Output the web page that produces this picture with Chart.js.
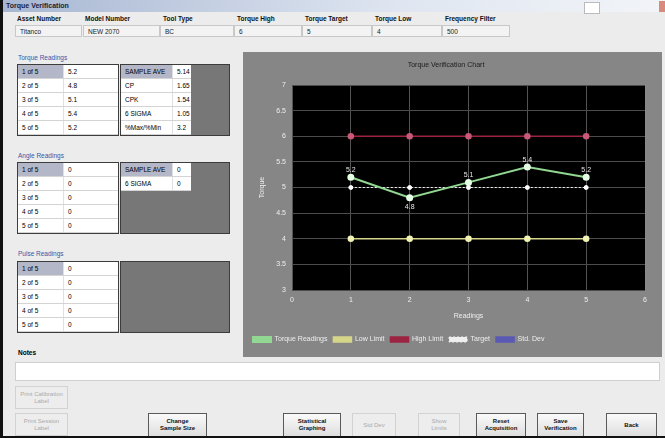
<!DOCTYPE html>
<html>
<head>
<meta charset="utf-8">
<script src="https://cdn.jsdelivr.net/npm/chart.js@4.4.0/dist/chart.umd.min.js"></script>
<style>
body { margin:0; width:665px; height:438px; background:#ececec; font-family:"Liberation Sans", Arial, sans-serif; position:relative; overflow:hidden; }
.a { position:absolute; }
.titlebar { left:0; top:0; width:665px; height:12px; background:linear-gradient(to right,#a7b6d2,#dfe6f1 60%,#f2f4f8); }
.titlebar span { position:absolute; left:6px; top:2px; font-size:7px; font-weight:bold; color:#223; }
.hl { top:15px; font-size:6.5px; font-weight:bold; color:#111; }
.hv { top:25px; height:12px; background:#f3f3f3; border:1px solid #c8c8c8; font-size:6.5px; line-height:12px; padding-left:4px; box-sizing:border-box; color:#222; }
.grp { left:18px; font-size:6.5px; color:#3a56a6; }
.tbl { border:1px solid #3c3c3c; background:#fff; box-sizing:border-box; }
.tbl2 { border:1px solid #3c3c3c; background:#777; box-sizing:border-box; }
.row { position:absolute; left:0; height:14px; border-bottom:1px solid #d4d4d4; box-sizing:border-box; font-size:6.5px; line-height:13px; background:#fff; }
.row div { position:absolute; top:0; height:13px; padding-left:4px; box-sizing:border-box; }
.sel { background:#b3b7c7; }
.btn { height:24px; border:1px solid #5a5a5a; background:linear-gradient(#fafafa,#dedede); font-size:6px; font-weight:bold; text-align:center; box-sizing:border-box; display:flex; align-items:center; justify-content:center; line-height:7px; color:#111; }
.dis { border:1px solid #d2d2d2; background:#ededed; color:#aaa; font-weight:normal; }
#panel { left:243px; top:52px; width:419px; height:305px; background:#868686; }
#panel canvas { position:absolute; left:0; top:0; }
</style>
</head>
<body>
<div class="a" style="left:0;top:0;width:3px;height:438px;background:#111;z-index:5"></div>
<div class="a" style="left:0;top:436px;width:665px;height:2px;background:#111;z-index:5"></div>
<div class="a titlebar"><span>Torque Verification</span></div>
<div class="a" style="left:584px;top:2px;width:14px;height:10px;background:#fff;border:1px solid #bbb"></div>
<div class="a" style="left:659px;top:1px;width:6px;height:11px;background:#d98a7a"></div>

<div class="a hl" style="left:17px">Asset Number</div>
<div class="a hl" style="left:85px">Model Number</div>
<div class="a hl" style="left:163px">Tool Type</div>
<div class="a hl" style="left:237px">Torque High</div>
<div class="a hl" style="left:305px">Torque Target</div>
<div class="a hl" style="left:375px">Torque Low</div>
<div class="a hl" style="left:445px">Frequency Filter</div>
<div class="a hv" style="left:15px;width:67px">Titanco</div>
<div class="a hv" style="left:83px;width:77px">NEW 2070</div>
<div class="a hv" style="left:160px;width:74px">BC</div>
<div class="a hv" style="left:234px;width:68px">6</div>
<div class="a hv" style="left:302px;width:70px">5</div>
<div class="a hv" style="left:372px;width:70px">4</div>
<div class="a hv" style="left:442px;width:68px">500</div>

<div class="a grp" style="top:54px">Torque Readings</div>
<div class="a grp" style="top:152px">Angle Readings</div>
<div class="a grp" style="top:250px">Pulse Readings</div>
<div id="forms"></div>

<div class="a" id="panel"><canvas id="torqueChart" width="419" height="305"></canvas></div>

<div class="a" style="left:18px;top:349px;font-size:6.5px;font-weight:bold">Notes</div>
<div class="a" style="left:15px;top:362px;width:645px;height:19px;background:#fff;border:1px solid #cfcfcf;box-sizing:border-box"></div>

<div class="a btn dis" style="left:15px;top:386px;width:53px;height:23px">Print Calibration<br>Label</div>
<div class="a btn dis" style="left:15px;top:413px;width:53px;height:23px">Print Session<br>Label</div>
<div class="a btn" style="left:148px;top:413px;width:59px">Change<br>Sample Size</div>
<div class="a btn" style="left:283px;top:413px;width:58px">Statistical<br>Graphing</div>
<div class="a btn dis" style="left:352px;top:413px;width:44px">Std Dev</div>
<div class="a btn dis" style="left:418px;top:413px;width:42px">Show<br>Limits</div>
<div class="a btn" style="left:476px;top:413px;width:50px">Reset<br>Acquisition</div>
<div class="a btn" style="left:537px;top:413px;width:47px">Save<br>Verification</div>
<div class="a btn" style="left:606px;top:413px;width:51px">Back</div>

<script>
// chart data
var readingNo = [1, 2, 3, 4, 5];
var torqueReadings = [5.2, 4.8, 5.1, 5.4, 5.2];
var lowLimit = [4, 4, 4, 4, 4];
var highLimit = [6, 6, 6, 6, 6];
var torqueTarget = [5, 5, 5, 5, 5];
var stdDev = [];
var seriesNames = ['Torque Readings', 'Low Limit', 'High Limit', 'Target', 'Std. Dev'];
var yTickMin = 3, yTickMax = 7, yTickStep = 0.5;
var xTickMin = 0, xTickMax = 6, xTickStep = 1;

// side tables
var torqueStats = [['SAMPLE AVE', '5.14'], ['CP', '1.65'], ['CPK', '1.54'], ['6 SIGMA', '1.05'], ['%Max/%Min', '3.2']];
var angleReadings = [0, 0, 0, 0, 0];
var angleStats = [['SAMPLE AVE', '0'], ['6 SIGMA', '0']];
var pulseReadings = [0, 0, 0, 0, 0];

function makeTable(left, top, rows, labelW, valW, cls) {
    var t = document.createElement('div');
    t.className = 'a ' + cls;
    t.style.left = left + 'px';
    t.style.top = top + 'px';
    t.style.width = (cls == 'tbl' ? labelW + valW + 2 : 110) + 'px';
    t.style.height = '72px';
    rows.forEach(function (r, i) {
        var row = document.createElement('div');
        row.className = 'row';
        row.style.top = (i * 14) + 'px';
        row.style.width = (labelW + valW) + 'px';
        row.innerHTML = '<div class="' + (i == 0 ? 'sel' : '') + '" style="left:0;width:' + labelW + 'px;border-right:1px solid #e0e0e0">' + r[0] + '</div>' +
            '<div style="left:' + labelW + 'px;width:' + valW + 'px">' + r[1] + '</div>';
        t.appendChild(row);
    });
    document.getElementById('forms').appendChild(t);
}
function numbered(vals) {
    return vals.map(function (v, i) { return [(i + 1) + ' of ' + vals.length, String(v)]; });
}
makeTable(17, 64, numbered(torqueReadings), 46, 54, 'tbl');
makeTable(120, 64, torqueStats, 52, 18, 'tbl2');
makeTable(17, 162, numbered(angleReadings), 46, 54, 'tbl');
makeTable(120, 162, angleStats, 52, 18, 'tbl2');
makeTable(17, 261, numbered(pulseReadings), 46, 54, 'tbl');
var emptyBox = document.createElement('div');
emptyBox.className = 'a tbl2';
emptyBox.style.cssText = 'left:120px;top:261px;width:110px;height:72px';
document.getElementById('forms').appendChild(emptyBox);

function pts(vals) {
    return vals.map(function (v, i) { return { x: readingNo[i], y: v }; });
}

var plotBg = {
    id: 'plotBg',
    beforeDraw: function (chart) {
        var a = chart.chartArea, ctx = chart.ctx;
        ctx.save();
        ctx.fillStyle = '#000';
        ctx.fillRect(a.left, a.top, a.right - a.left, a.bottom - a.top);
        ctx.restore();
    }
};

var pointLabels = {
    id: 'pointLabels',
    afterDatasetsDraw: function (chart) {
        var ctx = chart.ctx;
        var meta = chart.getDatasetMeta(0);
        ctx.save();
        ctx.font = '7px "Liberation Sans", Arial';
        ctx.fillStyle = '#e6e6e6';
        ctx.textAlign = 'center';
        ctx.textBaseline = 'middle';
        meta.data.forEach(function (p, i) {
            var v = torqueReadings[i];
            var dy = v < torqueTarget[i] ? 9 : -7;
            ctx.fillText(v.toFixed(1), p.x, p.y + dy);
        });
        ctx.restore();
    }
};

var ctx = document.getElementById('torqueChart').getContext('2d');
var torqueChart = new Chart(ctx, {
    type: 'scatter',
    data: {
        datasets: [{
            label: seriesNames[0],
            data: pts(torqueReadings),
            showLine: true,
            borderColor: '#92d892',
            backgroundColor: '#92d892',
            pointBackgroundColor: '#e4ffe4',
            pointBorderColor: '#e4ffe4',
            borderWidth: 2,
            pointRadius: 2.5,
            order: 0
        }, {
            label: seriesNames[1],
            data: pts(lowLimit),
            showLine: true,
            borderColor: '#d6d68a',
            backgroundColor: '#d6d68a',
            pointBackgroundColor: '#f2f2b4',
            pointBorderColor: '#f2f2b4',
            borderWidth: 1.5,
            pointRadius: 2.5,
            order: 1
        }, {
            label: seriesNames[2],
            data: pts(highLimit),
            showLine: true,
            borderColor: '#9c2442',
            backgroundColor: '#9c2442',
            pointBackgroundColor: '#c85a78',
            pointBorderColor: '#c85a78',
            borderWidth: 1.5,
            pointRadius: 2.5,
            order: 1
        }, {
            label: seriesNames[3],
            data: pts(torqueTarget),
            showLine: true,
            borderColor: '#eeeeee',
            backgroundColor: '#eeeeee',
            pointBackgroundColor: '#ffffff',
            pointBorderColor: '#ffffff',
            borderWidth: 1,
            borderDash: [2, 2],
            pointRadius: 2,
            order: 1
        }, {
            label: seriesNames[4],
            data: pts(stdDev),
            showLine: true,
            borderColor: '#5a5ab4',
            backgroundColor: '#5a5ab4',
            borderWidth: 1.5,
            order: 1
        }]
    },
    options: {
        responsive: false,
        animation: false,
        devicePixelRatio: 1,
        layout: { padding: { left: 4, right: 17, top: 0, bottom: 4 } },
        plugins: {
            title: {
                display: true,
                text: 'Torque Verification Chart',
                color: '#1c1c1c',
                font: { size: 7, weight: 'normal', family: '"Liberation Sans", Arial' },
                padding: { top: 9, bottom: 15.6 }
            },
            legend: {
                position: 'bottom',
                align: 'start',
                labels: {
                    color: '#eeeeee',
                    font: { size: 7, family: '"Liberation Sans", Arial' },
                    boxWidth: 18,
                    boxHeight: 5,
                    padding: 6
                }
            },
            tooltip: { enabled: false }
        },
        scales: {
            x: {
                type: 'linear',
                min: xTickMin,
                max: xTickMax,
                ticks: { stepSize: xTickStep, color: '#eeeeee', padding: 6, font: { size: 7 } },
                grid: { color: '#8c8c8c', lineWidth: 0.6, drawTicks: false },
                border: { display: false },
                title: { display: true, text: 'Readings', color: '#eeeeee', font: { size: 7 }, padding: { top: 4, bottom: 10 } },
                afterFit: function (s) { s.height = 40; }
            },
            y: {
                min: yTickMin,
                max: yTickMax,
                ticks: {
                    stepSize: yTickStep, color: '#eeeeee', padding: 6, font: { size: 7 },
                    callback: function (v) { return String(Number(v)); }
                },
                grid: { color: '#4c4c4c', lineWidth: 1, drawTicks: false },
                border: { display: false },
                title: { display: true, text: 'Torque', color: '#eeeeee', font: { size: 7 }, padding: { top: 11, bottom: 0 } },
                afterFit: function (s) { s.width = 45; }
            }
        }
    },
    plugins: [plotBg, pointLabels]
});
</script>
</body>
</html>
